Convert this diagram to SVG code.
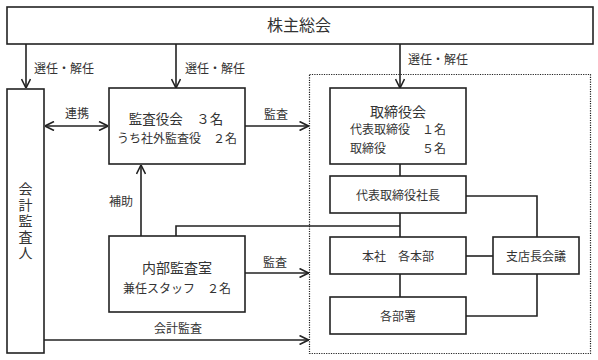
<svg xmlns="http://www.w3.org/2000/svg" width="598" height="360" viewBox="0 0 598 360">
<style>
.box{fill:#fff;stroke:#222;stroke-width:1.6}
.ln{fill:none;stroke:#222;stroke-width:1.6}
.dot{fill:none;stroke:#222;stroke-width:1.2;stroke-dasharray:1.2 1.2}
text{font-family:"Noto Sans CJK JP","Noto Sans",sans-serif;fill:#333;text-anchor:middle}
.s12{font-size:12px}
.s14{font-size:14px}
.s13{font-size:13.5px}
.s16{font-size:16px}
.vt{font-size:14px;writing-mode:vertical-rl;letter-spacing:2px}
</style>
<defs>
<marker id="ah" viewBox="0 0 10 10" refX="10" refY="5" markerWidth="10" markerHeight="10" markerUnits="userSpaceOnUse" orient="auto-start-reverse">
<path d="M1,0.5 L10,5 L1,9.5" fill="none" stroke="#222" stroke-width="1.6"/>
</marker>
</defs>

<rect id="outline" class="dot" x="309.5" y="74.5" width="281" height="279"/>

<g id="connectors">
<line class="ln" x1="26" y1="44" x2="26" y2="88" marker-end="url(#ah)"/>
<line class="ln" x1="176" y1="44" x2="176" y2="88" marker-end="url(#ah)"/>
<line class="ln" x1="400" y1="44" x2="400" y2="88" marker-end="url(#ah)"/>
<line class="ln" x1="45" y1="126" x2="108" y2="126" marker-start="url(#ah)" marker-end="url(#ah)"/>
<line class="ln" x1="245" y1="126" x2="308.5" y2="126" marker-end="url(#ah)"/>
<line class="ln" x1="141" y1="236" x2="141" y2="165" marker-end="url(#ah)"/>
<line class="ln" x1="245" y1="273" x2="308.5" y2="273" marker-end="url(#ah)"/>
<line class="ln" x1="44" y1="340" x2="308.5" y2="340" marker-end="url(#ah)"/>
<line class="ln" x1="400" y1="164" x2="400" y2="176"/>
<line class="ln" x1="400" y1="213" x2="400" y2="237"/>
<polyline class="ln" points="176,236 176,226 400,226"/>
<line class="ln" x1="400" y1="274" x2="400" y2="297"/>
<polyline class="ln" points="466,196 537,196 537,237"/>
<line class="ln" x1="466" y1="256" x2="493" y2="256"/>
<polyline class="ln" points="537,274 537,316 466,316"/>
<text class="s12" x="64" y="72.5">選任・解任</text>
<text class="s12" x="215" y="72.5">選任・解任</text>
<text class="s12" x="438" y="63.5">選任・解任</text>
<text class="s12" x="77" y="117.5">連携</text>
<text class="s12" x="276" y="118.5">監査</text>
<text class="s12" x="121" y="205.5">補助</text>
<text class="s12" x="275" y="266.5">監査</text>
<text class="s12" x="178" y="332.5">会計監査</text>
</g>

<g id="shareholders">
<rect class="box" x="7" y="7" width="586" height="37"/>
<text class="s16" x="299" y="31">株主総会</text>
</g>

<g id="auditor">
<rect class="box" x="7" y="89" width="37" height="264"/>
<text class="vt" x="25.5" y="222">会計監査人</text>
</g>

<g id="audit-board">
<rect class="box" x="109" y="88" width="136" height="76"/>
<text class="s13" x="176" y="124">監査役会　３名</text>
<text class="s12" x="177" y="142.5">うち社外監査役　２名</text>
</g>

<g id="internal-audit">
<rect class="box" x="109" y="236" width="136" height="76"/>
<text class="s14" x="177" y="273.3">内部監査室</text>
<text class="s12" x="177" y="292.5">兼任スタッフ　２名</text>
</g>

<g id="board">
<rect class="box" x="330" y="88" width="136" height="76"/>
<text class="s14" x="398" y="117">取締役会</text>
<text class="s12" x="350" y="133.5" style="text-anchor:start">代表取締役　１名</text>
<text class="s12" x="350" y="152.5" style="text-anchor:start">取締役　　　５名</text>
</g>

<g id="president">
<rect class="box" x="330" y="176" width="136" height="37"/>
<text class="s12" x="398" y="199.5">代表取締役社長</text>
</g>

<g id="headquarters">
<rect class="box" x="330" y="237" width="136" height="37"/>
<text class="s12" x="398" y="260.5">本社　各本部</text>
</g>

<g id="branch-meeting">
<rect class="box" x="493" y="237" width="86" height="37"/>
<text class="s12" x="536" y="260.5">支店長会議</text>
</g>

<g id="departments">
<rect class="box" x="330" y="297" width="136" height="37"/>
<text class="s12" x="398" y="320.5">各部署</text>
</g>
</svg>
